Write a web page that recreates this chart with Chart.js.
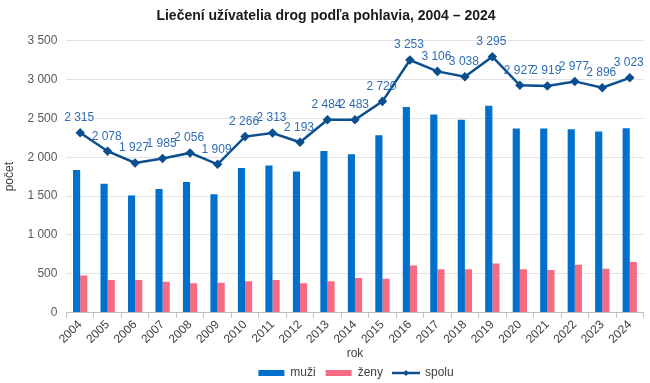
<!DOCTYPE html>
<html>
<head>
<meta charset="utf-8">
<script src="https://cdn.jsdelivr.net/npm/chart.js@4"></script>
<style>
html,body{margin:0;padding:0;background:#fff;}
#wrap{width:650px;height:383px;position:relative;}
</style>
</head>
<body>
<div id="wrap"><canvas id="c"></canvas></div>
<script>
const years = ['2004','2005','2006','2007','2008','2009','2010','2011','2012','2013','2014','2015','2016','2017','2018','2019','2020','2021','2022','2023','2024'];
const muzi  = [1837,1658,1509,1590,1680,1525,1862,1893,1815,2080,2039,2284,2646,2550,2482,2662,2371,2372,2362,2332,2373];
const zeny  = [478,420,418,395,376,384,404,420,378,404,444,436,607,556,556,633,556,547,615,564,650];
const spolu = [2315,2078,1927,1985,2056,1909,2266,2313,2193,2484,2483,2720,3253,3106,3038,3295,2927,2919,2977,2896,3023];

const fmt = v => String(v).replace(/\B(?=(\d{3})+(?!\d))/g, '\u00a0');
const FONT = '"Liberation Sans", Arial, sans-serif';
const C_M = '#0070CC', C_Z = '#F76B82', C_S = '#0B4F8F';

function icon(kind, color) {
  const c = document.createElement('canvas');
  c.width = 28; c.height = 8;
  const g = c.getContext('2d');
  g.fillStyle = color; g.strokeStyle = color;
  if (kind === 'rect') {
    g.fillRect(1, 1, 26, 6);
  } else {
    g.lineWidth = 2.5;
    g.beginPath(); g.moveTo(0, 4); g.lineTo(28, 4); g.stroke();
    g.beginPath(); g.moveTo(14, 1); g.lineTo(17, 4); g.lineTo(14, 7); g.lineTo(11, 4); g.closePath(); g.fill();
  }
  return c;
}
const legendIcons = [icon('rect', C_M), icon('rect', C_Z), icon('line', C_S)];

const labelPlugin = {
  id: 'lineLabels',
  afterInit(chart) {
    const lg = chart.legend;
    if (lg) {
      const of = lg.fit;
      lg.fit = function() { of.call(this); this.height -= 11; };
    }
  },
  afterLayout(chart) {
    const lg = chart.legend;
    if (lg) { lg.top -= 5; lg.left += 30; lg.right += 30; }
  },
  afterDatasetsDraw(chart) {
    const ctx = chart.ctx;
    const meta = chart.getDatasetMeta(2);
    ctx.save();
    ctx.font = '12px ' + FONT;
    ctx.fillStyle = '#2E6DB4';
    ctx.textAlign = 'center';
    ctx.textBaseline = 'middle';
    meta.data.forEach((pt, i) => {
      ctx.fillText(fmt(spolu[i]), pt.x - 1, pt.y - 15);
    });
    ctx.restore();
  }
};

new Chart(document.getElementById('c'), {
  data: {
    labels: years,
    datasets: [
      {type:'bar', label:'muži', data: muzi, backgroundColor:C_M, order:2,
       categoryPercentage:0.52, barPercentage:1.0},
      {type:'bar', label:'ženy', data: zeny, backgroundColor:C_Z, order:2,
       categoryPercentage:0.52, barPercentage:1.0},
      {type:'line', label:'spolu', data: spolu, borderColor:C_S, backgroundColor:C_S,
       borderWidth:2.5, pointStyle:'rectRot', pointRadius:3, pointBackgroundColor:C_S,
       pointBorderColor:C_S, tension:0, order:1}
    ]
  },
  options: {
    responsive:true, maintainAspectRatio:false, animation:false,
    layout:{padding:{left:2,right:0,top:0,bottom:0}},
    plugins:{
      title:{display:true, text:'Liečení užívatelia drog podľa pohlavia, 2004 – 2024',
        font:{family:FONT, size:14, weight:'bold'}, color:'#1a1a1a', padding:{top:8,bottom:16}},
      legend:{position:'bottom', labels:{font:{family:FONT,size:12}, color:'#404040',
        usePointStyle:true, pointStyleWidth:26, boxWidth:26, boxHeight:6, padding:10,
        sort:(a,b)=>a.datasetIndex-b.datasetIndex,
        generateLabels(chart){
          const items = Chart.defaults.plugins.legend.labels.generateLabels(chart);
          items.forEach(it => { it.pointStyle = legendIcons[it.datasetIndex]; it.rotation = 0; });
          return items;
        }}},
      tooltip:{enabled:false}
    },
    scales:{
      x:{
        afterFit(s){ s.paddingRight = 0; },
        title:{display:true, text:'rok', font:{family:FONT,size:12}, color:'#404040', padding:{top:0,bottom:1}},
        ticks:{font:{family:FONT,size:12}, color:'#404040', maxRotation:45, minRotation:45, padding:0},
        grid:{display:true, drawOnChartArea:false, drawTicks:true, tickLength:5, color:'#BFBFBF', offset:true},
        border:{display:true, color:'#BFBFBF'}
      },
      y:{
        min:0, max:3500,
        title:{display:true, text:'počet', font:{family:FONT,size:12}, color:'#404040', padding:{top:0,bottom:2}},
        ticks:{stepSize:500, font:{family:FONT,size:12}, color:'#595959', padding:9, callback:v=>fmt(v)},
        grid:{color:'#E3E3E3', drawTicks:false, lineWidth:1},
        border:{display:false}
      }
    }
  },
  plugins:[labelPlugin]
});
</script>
</body>
</html>
